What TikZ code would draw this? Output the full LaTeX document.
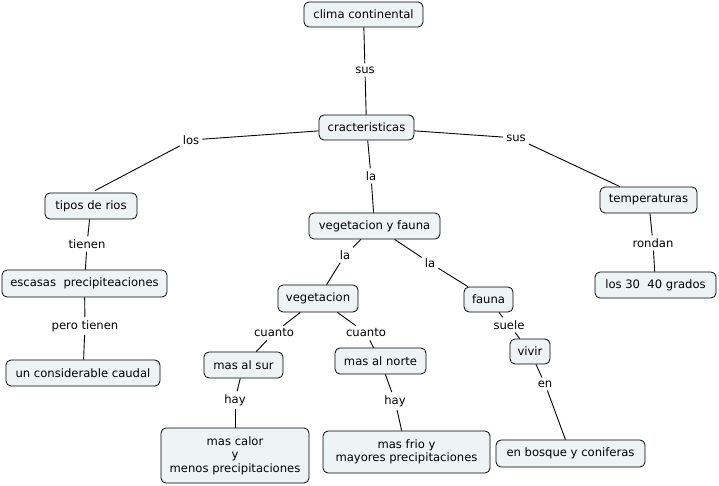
\documentclass[tikz,border=0pt]{standalone}
\usepackage{fontspec}
\setmainfont{DejaVu Sans}
\definecolor{cfill}{HTML}{EEF3F5}
\tikzset{
  concept/.style={draw=black, line width=0.8pt, fill=cfill, rounded corners=5pt,
    inner xsep=4pt, inner ysep=2pt, align=center, font=\fontsize{11.6}{13.5}\selectfont},
  lbl/.style={inner xsep=3pt, inner ysep=3pt, font=\fontsize{11.6}{13.5}\selectfont},
  link/.style={draw=black, line width=0.9pt}
}
\begin{document}
\begin{tikzpicture}[x=1pt,y=-1pt]
\useasboundingbox (0,0) rectangle (719,486);
% concepts
\node[concept, minimum width=119, minimum height=25] (clima) at (363.5,14.5) {clima continental};
\node[concept, minimum width=95, minimum height=25] (crac) at (366.5,127.5) {cracteristicas};
\node[concept, minimum width=92, minimum height=26] (tipos) at (91,206) {tipos de rios};
\node[concept, minimum width=131, minimum height=26] (vyf) at (374.5,226) {vegetacion y fauna};
\node[concept, minimum width=97, minimum height=26] (temp) at (648.5,200) {temperaturas};
\node[concept, minimum width=165, minimum height=27] (escasas) at (84.5,283.5) {escasas\ \ precipiteaciones};
\node[concept, minimum width=121, minimum height=26] (grados) at (655.5,285) {los 30\ \ 40 grados};
\node[concept, minimum width=80, minimum height=27] (veg) at (318,298.5) {vegetacion};
\node[concept, minimum width=49, minimum height=25] (fauna) at (488.5,299.5) {fauna};
\node[concept, minimum width=154, minimum height=26] (caudal) at (83,373) {un considerable caudal};
\node[concept, minimum width=79, minimum height=26] (sur) at (243.5,365) {mas al sur};
\node[concept, minimum width=91, minimum height=26] (norte) at (380.5,361) {mas al norte};
\node[concept, minimum width=40, minimum height=25] (vivir) at (530,351.5) {vivir};
\node[concept, minimum width=148, minimum height=55] (calor) at (235,455.5) {mas calor\\y\\menos precipitaciones};
\node[concept, minimum width=167, minimum height=42] (frio) at (406.5,452) {mas frio y\\mayores precipitaciones};
\node[concept, minimum width=149, minimum height=27] (bosque) at (570.5,453.5) {en bosque y coniferas};
% link labels
\node[lbl] (l1) at (365,70) {sus};
\node[lbl] (l2) at (191,140) {los};
\node[lbl] (l3) at (516,138) {sus};
\node[lbl] (l4) at (371,176) {la};
\node[lbl] (l5) at (87,244) {tienen};
\node[lbl] (l6) at (653,243) {rondan};
\node[lbl] (l7) at (85,326) {pero tienen};
\node[lbl] (l8) at (345,255) {la};
\node[lbl] (l9) at (430,263) {la};
\node[lbl] (l10) at (274,333) {cuanto};
\node[lbl] (l11) at (366,333) {cuanto};
\node[lbl] (l12) at (509,325) {suele};
\node[lbl] (l13) at (235,400) {hay};
\node[lbl] (l14) at (395,401) {hay};
\node[lbl] (l15) at (545,384) {en};
% connectors
\draw[link] (clima) -- (l1); \draw[link] (l1) -- (crac);
\draw[link] (crac) -- (l2); \draw[link] (l2) -- ([xshift=4pt,yshift=2pt]tipos.north);
\draw[link] (crac) -- (l3); \draw[link] (l3) -- (temp);
\draw[link] (crac) -- (l4); \draw[link] (l4) -- (vyf);
\draw[link] (tipos) -- (l5); \draw[link] (l5) -- (escasas);
\draw[link] (temp) -- (l6); \draw[link] (l6) -- (grados);
\draw[link] (escasas) -- (l7); \draw[link] (l7) -- (caudal);
\draw[link] (vyf) -- (l8); \draw[link] (l8) -- (veg);
\draw[link] (vyf) -- (l9); \draw[link] (l9) -- (fauna);
\draw[link] (veg) -- (l10); \draw[link] (l10) -- (sur);
\draw[link] (veg) -- (l11); \draw[link] (l11) -- (norte);
\draw[link] (fauna) -- (l12); \draw[link] (l12) -- (vivir);
\draw[link] (sur) -- (l13); \draw[link] (l13) -- (calor);
\draw[link] (norte) -- (l14); \draw[link] (l14) -- (frio);
\draw[link] (vivir) -- (l15); \draw[link] (l15) -- (bosque);
\end{tikzpicture}
\end{document}
